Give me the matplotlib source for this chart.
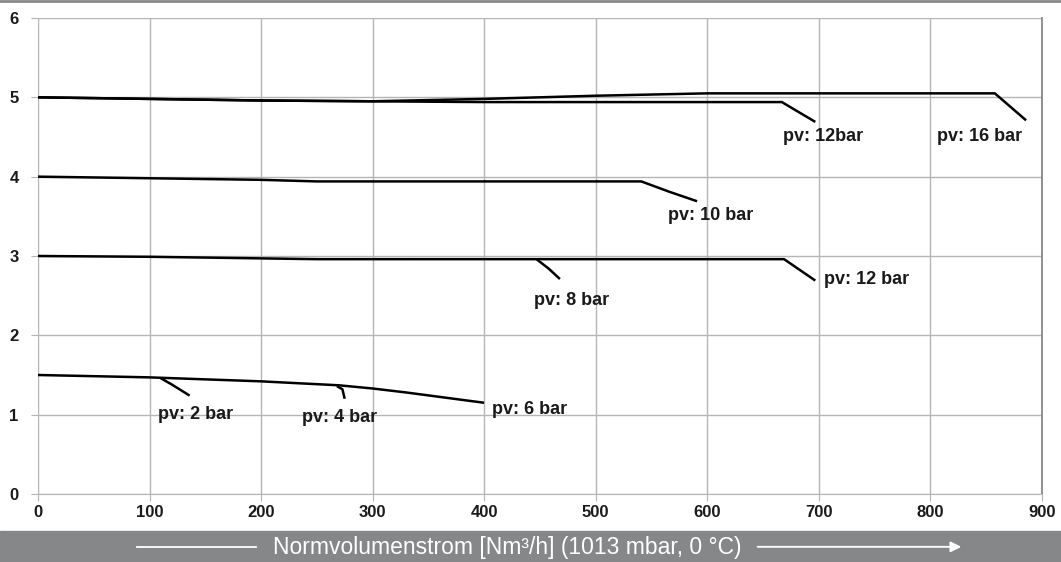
import matplotlib.pyplot as plt
from matplotlib.patches import Rectangle
from matplotlib.lines import Line2D

plt.rcParams['font.family'] = ['Liberation Sans', 'DejaVu Sans']

# top curve (12 bar / 16 bar)
x_top16 = [0, 100, 200, 300, 400, 500, 600, 858, 886]
y_top16 = [5.0, 4.98, 4.96, 4.95, 4.98, 5.02, 5.05, 5.05, 4.71]
x_top12 = [0, 100, 200, 300, 400, 500, 667, 697]
y_top12 = [5.0, 4.98, 4.96, 4.95, 4.94, 4.94, 4.94, 4.69]

# 10 bar
x_10 = [0, 100, 200, 250, 541, 566, 591]
y_10 = [4.0, 3.98, 3.96, 3.94, 3.94, 3.81, 3.69]

# 3er linie: 12 bar + abzweig 8 bar
x_3 = [0, 100, 200, 250, 669, 697]
y_3 = [3.0, 2.99, 2.97, 2.96, 2.96, 2.69]
x_8 = [447, 458, 468]
y_8 = [2.96, 2.84, 2.71]

# untere linie: 6 bar + abzweige 2 und 4 bar
x_6 = [0, 100, 200, 270, 300, 330, 400]
y_6 = [1.5, 1.47, 1.42, 1.37, 1.33, 1.28, 1.15]
x_2 = [110, 120, 136]
y_2 = [1.46, 1.38, 1.24]
x_4 = [268, 273, 275]
y_4 = [1.36, 1.32, 1.2]

labels = ["pv: 12bar", "pv: 16 bar", "pv: 10 bar", "pv: 12 bar",
          "pv: 8 bar", "pv: 2 bar", "pv: 4 bar", "pv: 6 bar"]
label_x = [668, 806, 565, 705, 445, 108, 237, 407]
label_y = [4.5, 4.5, 3.51, 2.7, 2.44, 1.0, 0.97, 1.07]

xticks = [0, 100, 200, 300, 400, 500, 600, 700, 800, 900]
yticks = [0, 1, 2, 3, 4, 5, 6]

fig = plt.figure(figsize=(10.61, 5.62), dpi=100)
ax = fig.add_axes([0.0358, 0.121, 0.946, 0.847])

for xs, ys in [(x_top16, y_top16), (x_top12, y_top12), (x_10, y_10), (x_3, y_3),
               (x_8, y_8), (x_6, y_6), (x_2, y_2), (x_4, y_4)]:
    ax.plot(xs, ys, color='black', lw=1.8, solid_capstyle='butt')

for t, tx, ty in zip(labels, label_x, label_y):
    ax.text(tx, ty, t, fontsize=13, fontweight='bold', color='#1a1a1a',
            va='center', ha='left')

ax.set_xlim(0, 900)
ax.set_ylim(0, 6)
ax.set_xticks(xticks)
ax.set_yticks(yticks)
ax.grid(True, color='#b5b5b5', lw=1)
ax.tick_params(length=5, color='#b5b5b5', labelsize=12)
ax.tick_params(axis='y', pad=9)
ax.tick_params(axis='x', pad=3)
for lab in ax.get_xticklabels() + ax.get_yticklabels():
    lab.set_fontweight('bold')
    lab.set_color('#1a1a1a')
for s in ['top', 'left']:
    ax.spines[s].set_visible(False)
ax.spines['bottom'].set_color('#b5b5b5')
ax.spines['right'].set_color('#888888')
ax.spines['right'].set_linewidth(1.3)

# grauer balken unten
fig.patches.append(Rectangle((0, 0), 1, 0.055, transform=fig.transFigure,
                             color='#868789', zorder=-1))
fig.text(0.478, 0.026, "Normvolumenstrom [Nm³/h] (1013 mbar, 0 °C)",
         color='white', fontsize=16.5, ha='center', va='center')
fig.lines.append(Line2D([0.129, 0.241], [0.027, 0.027], transform=fig.transFigure,
                        color='white', lw=1.3))
ax.annotate('', xy=(0.906, 0.027), xytext=(0.714, 0.027),
            xycoords='figure fraction', textcoords='figure fraction',
            annotation_clip=False,
            arrowprops=dict(arrowstyle='-|>', color='white', lw=1.3,
                            mutation_scale=16, shrinkA=0, shrinkB=0))
fig.lines.append(Line2D([0, 1], [0.998, 0.998], transform=fig.transFigure,
                        color='#8a8a8a', lw=2))

fig.savefig('out.png', dpi=100)
